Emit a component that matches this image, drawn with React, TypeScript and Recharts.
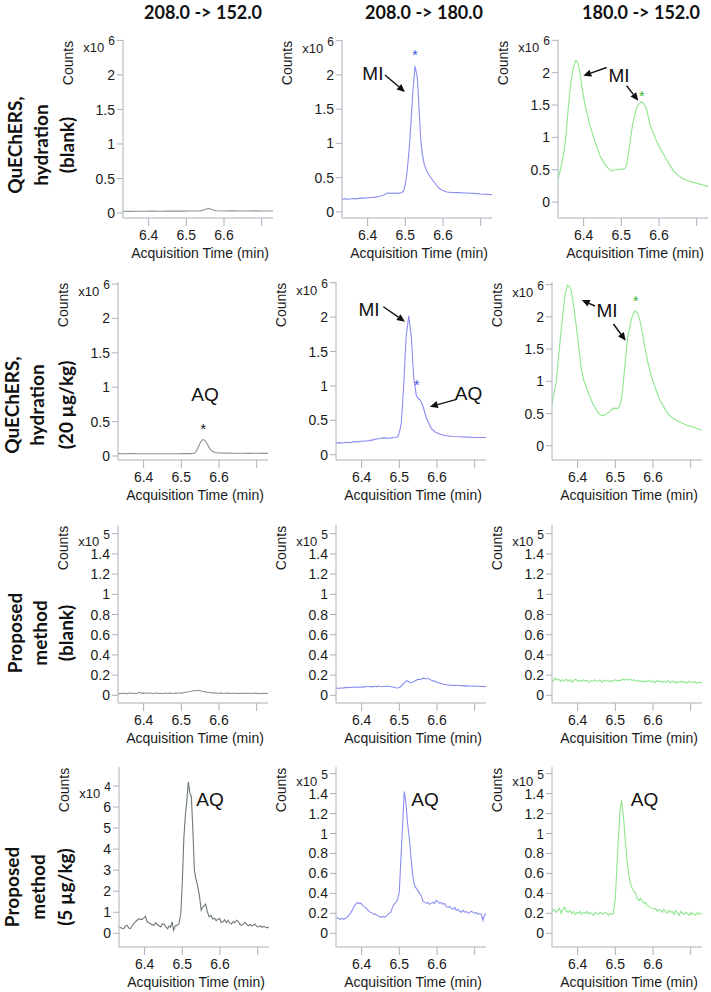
import React from 'react';
import { LineChart, Line, XAxis, YAxis, ReferenceDot, ReferenceLine } from 'recharts';

// ---------- labels ----------
const COLUMN_TITLES = ['208.0 -> 152.0', '208.0 -> 180.0', '180.0 -> 152.0'];
const ROW_LABELS = [
  ['QuEChERS,', 'hydration', '(blank)'],
  ['QuEChERS,', 'hydration', '(20 µg/kg)'],
  ['Proposed', 'method', '(blank)'],
  ['Proposed', 'method', '(5 µg/kg)'],
];
const X_TITLE = 'Acquisition Time (min)';
const Y_TITLE = 'Counts';

// ---------- ticks ----------
const X_DOMAIN = [6.332, 6.73];
const X_TICKS = [6.4, 6.5, 6.6, 6.7];
const X_TICK_LABELS = ['6.4', '6.5', '6.6', ''];
const Y_TICKS_E6 = [0, 0.5, 1, 1.5, 2, 2.5];
const Y_TICKS_E5 = [0, 0.2, 0.4, 0.6, 0.8, 1, 1.2, 1.4, 1.6];
const Y_TICKS_E4 = [0, 1, 2, 3, 4, 5, 6, 7];

// ---------- row 1 data (x10^6) ----------
const R1C1_T = [6.33, 6.35, 6.37, 6.39, 6.41, 6.43, 6.45, 6.47, 6.49, 6.51, 6.53, 6.54, 6.55, 6.555, 6.56, 6.565, 6.57, 6.58, 6.6, 6.62, 6.64, 6.66, 6.68, 6.7, 6.72, 6.73];
const R1C1_V = [0.025, 0.024, 0.026, 0.025, 0.027, 0.026, 0.028, 0.027, 0.028, 0.03, 0.03, 0.035, 0.05, 0.062, 0.065, 0.058, 0.045, 0.033, 0.03, 0.031, 0.03, 0.03, 0.031, 0.03, 0.03, 0.03];

const R1C2_T = [6.33, 6.34, 6.35, 6.36, 6.37, 6.38, 6.39, 6.4, 6.41, 6.42, 6.43, 6.44, 6.445, 6.45, 6.455, 6.46, 6.47, 6.48, 6.49, 6.495, 6.5, 6.505, 6.51, 6.515, 6.52, 6.526, 6.532, 6.537, 6.541, 6.545, 6.55, 6.555, 6.56, 6.57, 6.58, 6.59, 6.6, 6.61, 6.62, 6.64, 6.66, 6.68, 6.7, 6.72, 6.73];
const R1C2_V = [0.18, 0.19, 0.185, 0.195, 0.19, 0.2, 0.2, 0.205, 0.21, 0.215, 0.225, 0.24, 0.25, 0.27, 0.275, 0.27, 0.275, 0.27, 0.28, 0.3, 0.4, 0.6, 0.9, 1.3, 1.75, 2.13, 1.95, 1.45, 1.05, 0.85, 0.7, 0.62, 0.56, 0.48, 0.41, 0.34, 0.31, 0.29, 0.285, 0.28, 0.275, 0.27, 0.26, 0.255, 0.25];

const R1C3_T = [6.33, 6.335, 6.34, 6.346, 6.352, 6.359, 6.365, 6.37, 6.375, 6.379, 6.383, 6.388, 6.395, 6.404, 6.417, 6.431, 6.444, 6.457, 6.466, 6.475, 6.482, 6.488, 6.497, 6.506, 6.511, 6.515, 6.52, 6.524, 6.53, 6.535, 6.54, 6.544, 6.549, 6.553, 6.56, 6.567, 6.577, 6.586, 6.595, 6.606, 6.617, 6.628, 6.639, 6.65, 6.661, 6.675, 6.688, 6.7, 6.715, 6.73];
const R1C3_V = [0.33, 0.42, 0.55, 0.71, 0.95, 1.44, 1.8, 2.0, 2.12, 2.19, 2.17, 2.08, 1.8, 1.49, 1.18, 0.92, 0.71, 0.58, 0.52, 0.48, 0.5, 0.5, 0.51, 0.51, 0.53, 0.6, 0.8, 0.97, 1.2, 1.33, 1.45, 1.5, 1.53, 1.55, 1.52, 1.44, 1.18, 1.05, 0.92, 0.8, 0.69, 0.58, 0.48, 0.42, 0.37, 0.33, 0.31, 0.29, 0.27, 0.24];

// ---------- row 2 data (x10^6) ----------
const R2C1_T = [6.33, 6.35, 6.37, 6.39, 6.41, 6.43, 6.45, 6.47, 6.49, 6.51, 6.525, 6.535, 6.54, 6.545, 6.55, 6.555, 6.558, 6.562, 6.567, 6.572, 6.578, 6.585, 6.593, 6.6, 6.62, 6.64, 6.66, 6.68, 6.7, 6.72, 6.73];
const R2C1_V = [0.035, 0.033, 0.034, 0.032, 0.033, 0.032, 0.033, 0.032, 0.033, 0.034, 0.035, 0.04, 0.07, 0.13, 0.19, 0.23, 0.24, 0.23, 0.19, 0.14, 0.09, 0.06, 0.05, 0.045, 0.042, 0.04, 0.04, 0.039, 0.04, 0.038, 0.038];

const R2C2_T = [6.33, 6.34, 6.35, 6.36, 6.37, 6.38, 6.39, 6.4, 6.41, 6.42, 6.43, 6.44, 6.45, 6.46, 6.47, 6.48, 6.49, 6.496, 6.5, 6.505, 6.511, 6.518, 6.525, 6.532, 6.538, 6.545, 6.55, 6.556, 6.563, 6.572, 6.585, 6.595, 6.607, 6.62, 6.64, 6.66, 6.68, 6.7, 6.72, 6.73];
const R2C2_V = [0.17, 0.175, 0.17, 0.18, 0.175, 0.19, 0.19, 0.195, 0.2, 0.205, 0.215, 0.227, 0.24, 0.245, 0.24, 0.245, 0.25, 0.26, 0.32, 0.45, 0.94, 1.71, 2.02, 1.71, 1.13, 0.865, 0.82, 0.79, 0.7, 0.53, 0.38, 0.33, 0.3, 0.28, 0.265, 0.26, 0.255, 0.25, 0.25, 0.25];

const R2C3_T = [6.33, 6.333, 6.343, 6.351, 6.36, 6.367, 6.373, 6.378, 6.383, 6.391, 6.4, 6.409, 6.416, 6.423, 6.431, 6.44, 6.449, 6.458, 6.465, 6.471, 6.478, 6.485, 6.493, 6.5, 6.507, 6.512, 6.516, 6.52, 6.525, 6.533, 6.542, 6.548, 6.553, 6.559, 6.565, 6.571, 6.578, 6.587, 6.596, 6.607, 6.618, 6.629, 6.64, 6.655, 6.671, 6.69, 6.707, 6.72, 6.73];
const R2C3_V = [0.62, 0.68, 0.97, 1.48, 2.0, 2.36, 2.49, 2.47, 2.41, 2.1, 1.69, 1.22, 1.02, 0.91, 0.78, 0.66, 0.56, 0.49, 0.47, 0.476, 0.5, 0.53, 0.58, 0.58, 0.58, 0.62, 0.71, 0.9, 1.22, 1.69, 1.95, 2.05, 2.09, 2.06, 1.95, 1.78, 1.53, 1.28, 1.07, 0.88, 0.71, 0.6, 0.49, 0.42, 0.37, 0.32, 0.29, 0.26, 0.24];

// ---------- row 3 data (x10^5) ----------
const R3_T = [
  6.33, 6.335, 6.34, 6.345, 6.35, 6.355, 6.36, 6.365, 6.37, 6.375,
  6.38, 6.385, 6.39, 6.395, 6.4, 6.405, 6.41, 6.415, 6.42, 6.425,
  6.43, 6.435, 6.44, 6.445, 6.45, 6.455, 6.46, 6.465, 6.47, 6.475,
  6.48, 6.485, 6.49, 6.495, 6.5, 6.505, 6.51, 6.515, 6.52, 6.525,
  6.53, 6.535, 6.54, 6.545, 6.55, 6.555, 6.56, 6.565, 6.57, 6.575,
  6.58, 6.585, 6.59, 6.595, 6.6, 6.605, 6.61, 6.615, 6.62, 6.625,
  6.63, 6.635, 6.64, 6.645, 6.65, 6.655, 6.66, 6.665, 6.67, 6.675,
  6.68, 6.685, 6.69, 6.695, 6.7, 6.705, 6.71, 6.715, 6.72, 6.725, 6.73,
];
const R3C1_V = [
  0.02, 0.015, 0.02, 0.018, 0.022, 0.015, 0.02, 0.025, 0.018, 0.02,
  0.016, 0.022, 0.03, 0.02, 0.024, 0.018, 0.025, 0.02, 0.022, 0.018,
  0.02, 0.025, 0.018, 0.02, 0.016, 0.022, 0.02, 0.018, 0.024, 0.02,
  0.018, 0.022, 0.02, 0.025, 0.02, 0.028, 0.03, 0.032, 0.035, 0.04,
  0.042, 0.048, 0.045, 0.05, 0.045, 0.04, 0.038, 0.032, 0.03, 0.025,
  0.028, 0.02, 0.025, 0.022, 0.02, 0.024, 0.018, 0.02, 0.022, 0.019,
  0.02, 0.018, 0.022, 0.02, 0.017, 0.021, 0.019, 0.02, 0.018, 0.022,
  0.02, 0.017, 0.02, 0.022, 0.018, 0.02, 0.016, 0.02, 0.019, 0.018, 0.02,
];
const R3C2_V = [
  0.07, 0.072, 0.068, 0.075, 0.07, 0.078, 0.074, 0.08, 0.076, 0.082,
  0.08, 0.085, 0.078, 0.083, 0.08, 0.086, 0.082, 0.09, 0.085, 0.088,
  0.084, 0.09, 0.086, 0.092, 0.088, 0.085, 0.09, 0.087, 0.092, 0.088,
  0.084, 0.08, 0.075, 0.072, 0.078, 0.09, 0.11, 0.13, 0.145, 0.135,
  0.125, 0.13, 0.14, 0.15, 0.16, 0.155, 0.165, 0.17, 0.162, 0.168,
  0.16, 0.15, 0.145, 0.138, 0.13, 0.125, 0.118, 0.112, 0.108, 0.105,
  0.1, 0.104, 0.098, 0.1, 0.096, 0.1, 0.095, 0.098, 0.094, 0.096,
  0.092, 0.095, 0.09, 0.094, 0.088, 0.092, 0.09, 0.087, 0.09, 0.086, 0.088,
];
const R3C3_V = [
  0.16, 0.14, 0.17, 0.15, 0.16, 0.135, 0.155, 0.145, 0.16, 0.14,
  0.155, 0.13, 0.15, 0.16, 0.14, 0.15, 0.135, 0.155, 0.14, 0.15,
  0.13, 0.145, 0.14, 0.155, 0.135, 0.145, 0.15, 0.13, 0.148, 0.14,
  0.15, 0.135, 0.145, 0.14, 0.155, 0.14, 0.15, 0.145, 0.16, 0.15,
  0.165, 0.15, 0.16, 0.145, 0.155, 0.14, 0.15, 0.135, 0.145, 0.13,
  0.145, 0.135, 0.15, 0.13, 0.14, 0.125, 0.145, 0.135, 0.14, 0.125,
  0.14, 0.13, 0.145, 0.125, 0.135, 0.14, 0.12, 0.135, 0.13, 0.14,
  0.125, 0.135, 0.12, 0.14, 0.13, 0.125, 0.138, 0.12, 0.132, 0.125, 0.13,
];

// ---------- row 4 data ----------
const R4C1_T = [
  6.333, 6.338, 6.345, 6.349, 6.354, 6.358, 6.362, 6.367, 6.371, 6.376,
  6.38, 6.385, 6.389, 6.393, 6.398, 6.402, 6.407, 6.411, 6.416, 6.42,
  6.425, 6.429, 6.434, 6.438, 6.443, 6.447, 6.452, 6.456, 6.461, 6.465,
  6.469, 6.473, 6.477, 6.481, 6.486, 6.491, 6.496, 6.5, 6.504, 6.508,
  6.512, 6.516, 6.52, 6.524, 6.528, 6.532, 6.536, 6.54, 6.545, 6.55,
  6.554, 6.558, 6.562, 6.566, 6.571, 6.576, 6.581, 6.585, 6.59, 6.594,
  6.599, 6.603, 6.608, 6.612, 6.617, 6.621, 6.626, 6.63, 6.635, 6.639,
  6.644, 6.648, 6.653, 6.657, 6.662, 6.666, 6.671, 6.675, 6.68, 6.684,
  6.689, 6.693, 6.698, 6.702, 6.707, 6.711, 6.716, 6.72, 6.725, 6.73,
];
// x10^4
const R4C1_V = [
  0.3, 0.25, 0.22, 0.35, 0.38, 0.25, 0.22, 0.35, 0.46, 0.55,
  0.62, 0.7, 0.66, 0.66, 0.72, 0.81, 0.54, 0.5, 0.46, 0.4,
  0.38, 0.5, 0.42, 0.36, 0.3, 0.45, 0.43, 0.32, 0.22, 0.35,
  0.3, 0.54, 0.14, 0.35, 0.38, 0.46, 0.94, 2.4, 4.5, 5.6,
  6.3, 7.2, 6.65, 6.5, 4.9, 3.0, 2.6, 2.3, 1.85, 1.1,
  1.25, 1.3, 1.38, 1.05, 0.78, 0.85, 0.68, 0.72, 0.6, 0.66,
  0.7, 0.52, 0.55, 0.65, 0.5, 0.62, 0.48, 0.44, 0.55, 0.5,
  0.62, 0.58, 0.42, 0.38, 0.45, 0.52, 0.42, 0.36, 0.42, 0.35,
  0.4, 0.43, 0.32, 0.3, 0.36, 0.28, 0.32, 0.3, 0.26, 0.3,
];
const R4_T = [
  6.333, 6.338, 6.343, 6.348, 6.352, 6.357, 6.361, 6.366, 6.37, 6.375,
  6.38, 6.384, 6.389, 6.393, 6.398, 6.402, 6.406, 6.41, 6.415, 6.42,
  6.424, 6.429, 6.433, 6.437, 6.442, 6.446, 6.451, 6.455, 6.46, 6.464,
  6.468, 6.473, 6.477, 6.482, 6.486, 6.491, 6.495, 6.5, 6.504, 6.509,
  6.513, 6.517, 6.522, 6.526, 6.531, 6.535, 6.54, 6.545, 6.549, 6.554,
  6.558, 6.563, 6.567, 6.572, 6.576, 6.58, 6.584, 6.589, 6.593, 6.598,
  6.602, 6.607, 6.611, 6.616, 6.62, 6.624, 6.629, 6.633, 6.638, 6.642,
  6.647, 6.651, 6.656, 6.66, 6.665, 6.669, 6.674, 6.678, 6.683, 6.687,
  6.691, 6.696, 6.7, 6.704, 6.709, 6.713, 6.718, 6.722, 6.726, 6.73,
];
// x10^5
const R4C2_V = [
  0.16, 0.15, 0.14, 0.15, 0.14, 0.15, 0.16, 0.18, 0.2, 0.23,
  0.27, 0.29, 0.31, 0.3, 0.3, 0.28, 0.27, 0.26, 0.24, 0.22,
  0.21, 0.2, 0.19, 0.19, 0.18, 0.17, 0.16, 0.17, 0.16, 0.17,
  0.18, 0.2, 0.21, 0.26, 0.29, 0.31, 0.33, 0.42, 0.73, 1.1,
  1.42, 1.33, 1.1, 0.97, 0.76, 0.6, 0.48, 0.45, 0.43, 0.4,
  0.38, 0.32, 0.31, 0.3, 0.31, 0.29, 0.3, 0.31, 0.3, 0.33,
  0.32, 0.3, 0.31, 0.29, 0.3, 0.27, 0.26, 0.27, 0.25, 0.24,
  0.26, 0.23, 0.24, 0.22, 0.21, 0.23, 0.21, 0.22, 0.2, 0.21,
  0.22, 0.21, 0.2, 0.21, 0.19, 0.2, 0.19, 0.13, 0.18, 0.2,
];
const R4C3_V = [
  0.22, 0.24, 0.21, 0.23, 0.25, 0.2, 0.24, 0.26, 0.22, 0.21,
  0.23, 0.2, 0.22, 0.19, 0.21, 0.2, 0.22, 0.19, 0.21, 0.2,
  0.22, 0.19, 0.21, 0.2, 0.18, 0.21, 0.2, 0.19, 0.21, 0.2,
  0.19, 0.21, 0.2, 0.18, 0.2, 0.19, 0.2, 0.35, 0.65, 1.0,
  1.25, 1.33, 1.15, 0.95, 0.73, 0.6, 0.5, 0.45, 0.42, 0.4,
  0.35, 0.33, 0.35, 0.32, 0.3, 0.31, 0.28, 0.27, 0.26, 0.25,
  0.24, 0.25, 0.22, 0.24, 0.23, 0.21, 0.24, 0.22, 0.2, 0.23,
  0.21, 0.22, 0.19, 0.23, 0.2, 0.18, 0.22, 0.2, 0.19, 0.21,
  0.2, 0.18, 0.21, 0.19, 0.2, 0.18, 0.21, 0.19, 0.2, 0.19,
];

// ---------- annotations (data units) ----------
const NONE = { stars: [], texts: [], arrows: [] };
const NOTES_R1C2 = {
  stars: [{ t: 6.5257, v: 2.33, c: '#3d4fe0' }],
  texts: [{ t: 6.414, v: 2.028, s: 'MI' }],
  arrows: [{ t1: 6.446, v1: 2.0, t2: 6.499, v2: 1.75 }],
};
const NOTES_R1C3 = {
  stars: [{ t: 6.554, v: 1.686, c: '#2fb52f' }],
  texts: [{ t: 6.494, v: 1.968, s: 'MI' }],
  arrows: [
    { t1: 6.461, v1: 2.08, t2: 6.399, v2: 1.952 },
    { t1: 6.514, v1: 1.799, t2: 6.545, v2: 1.568 },
  ],
};
const NOTES_R2C1 = {
  stars: [{ t: 6.558, v: 0.426, c: '#111' }],
  texts: [{ t: 6.563, v: 0.902, s: 'AQ' }],
  arrows: [],
};
const NOTES_R2C2 = {
  stars: [{ t: 6.546, v: 1.046, c: '#3d4fe0' }],
  texts: [{ t: 6.4196, v: 2.113, s: 'MI' }, { t: 6.6835, v: 0.892, s: 'AQ' }],
  arrows: [
    { t1: 6.4575, v1: 2.151, t2: 6.515, v2: 1.933 },
    { t1: 6.652, v1: 0.805, t2: 6.581, v2: 0.698 },
  ],
};
const NOTES_R2C3 = {
  stars: [{ t: 6.554, v: 2.287, c: '#2fb52f' }],
  texts: [{ t: 6.478, v: 2.106, s: 'MI' }],
  arrows: [
    { t1: 6.446, v1: 2.168, t2: 6.411, v2: 2.261 },
    { t1: 6.495, v1: 1.889, t2: 6.5275, v2: 1.63 },
  ],
};
const NOTES_R4C1 = { stars: [], texts: [{ t: 6.5734, v: 6.363, s: 'AQ' }], arrows: [] };
const NOTES_R4C2 = { stars: [], texts: [{ t: 6.568, v: 1.345, s: 'AQ' }], arrows: [] };
const NOTES_R4C3 = { stars: [], texts: [{ t: 6.5774, v: 1.345, s: 'AQ' }], arrows: [] };

// ---------- style ----------
const GRAY = '#8a9494';
const GRAY_DARK = '#6e7878';
const BLUE = '#8a8cf0';
const GREEN = '#8ee68e';
const AXIS = '#a9b2ba';
const TXT = '#1a1a1a';
const SANS = '"Liberation Sans", Arial, Helvetica, sans-serif';
const BOLD = 'Lato, "Open Sans", sans-serif';

const PLOT_W = 150;

const PANELS = [
  { left: 123, top: 40, bottom: 218, yDomain: [-0.072, 2.506], yTicks: Y_TICKS_E6, topTick: 2.5, exp: '6', color: GRAY, t: R1C1_T, v: R1C1_V, notes: NONE },
  { left: 342, top: 40, bottom: 218, yDomain: [-0.09, 2.51], yTicks: Y_TICKS_E6, topTick: 2.5, exp: '6', color: BLUE, t: R1C2_T, v: R1C2_V, notes: NOTES_R1C2 },
  { left: 558, top: 40, bottom: 218, yDomain: [-0.245, 2.505], yTicks: Y_TICKS_E6, topTick: 2.5, exp: '6', color: GREEN, t: R1C3_T, v: R1C3_V, notes: NOTES_R1C3 },
  { left: 118, top: 282, bottom: 460, yDomain: [-0.058, 2.53], yTicks: Y_TICKS_E6, topTick: 2.5, exp: '6', color: GRAY, t: R2C1_T, v: R2C1_V, notes: NOTES_R2C1 },
  { left: 336, top: 282, bottom: 460, yDomain: [-0.077, 2.51], yTicks: Y_TICKS_E6, topTick: 2.5, exp: '6', color: BLUE, t: R2C2_T, v: R2C2_V, notes: NOTES_R2C2 },
  { left: 552, top: 282, bottom: 460, yDomain: [-0.22, 2.54], yTicks: Y_TICKS_E6, topTick: 2.5, exp: '6', color: GREEN, t: R2C3_T, v: R2C3_V, notes: NOTES_R2C3 },
  { left: 118, top: 525, bottom: 703, yDomain: [-0.076, 1.686], yTicks: Y_TICKS_E5, topTick: 1.6, exp: '5', color: GRAY, t: R3_T, v: R3C1_V, notes: NONE },
  { left: 336, top: 525, bottom: 703, yDomain: [-0.076, 1.686], yTicks: Y_TICKS_E5, topTick: 1.6, exp: '5', color: BLUE, t: R3_T, v: R3C2_V, notes: NONE },
  { left: 552, top: 525, bottom: 703, yDomain: [-0.076, 1.686], yTicks: Y_TICKS_E5, topTick: 1.6, exp: '5', color: GREEN, t: R3_T, v: R3C3_V, notes: NONE },
  { left: 119, top: 767, bottom: 947, yDomain: [-0.65, 7.9], yTicks: Y_TICKS_E4, topTick: 7, exp: '4', color: GRAY_DARK, t: R4C1_T, v: R4C1_V, notes: NOTES_R4C1 },
  { left: 336, top: 767, bottom: 947, yDomain: [-0.137, 1.666], yTicks: Y_TICKS_E5, topTick: 1.6, exp: '5', color: BLUE, t: R4_T, v: R4C2_V, notes: NOTES_R4C2 },
  { left: 552, top: 767, bottom: 947, yDomain: [-0.137, 1.666], yTicks: Y_TICKS_E5, topTick: 1.6, exp: '5', color: GREEN, t: R4_T, v: R4C3_V, notes: NOTES_R4C3 },
];

const ROW_LABEL_X = [[14.5, 40, 66], [11, 36, 65], [14.5, 39, 65], [11, 37.5, 64]];
const ROW_LABEL_Y = [145, 405, 633, 887];
const COL_TITLE_X = [203, 424, 641];

// ---------- ticks ----------
const makeYTick = (topTick: number, exp: string) => (p: any) => {
  const val = p.payload.value;
  if (val === topTick) {
    return (
      <text x={p.x} y={p.y} textAnchor="end" fill={TXT} fontFamily={SANS} fontSize={13}>
        <tspan dy={12}>x10</tspan>
        <tspan dx={4} dy={-7} fontSize={12}>{exp}</tspan>
      </text>
    );
  }
  return (
    <text x={p.x} y={p.y} dy="0.36em" textAnchor="end" fill={TXT} fontFamily={SANS} fontSize={14}>
      {String(val)}
    </text>
  );
};

const XTick = (p: any) => {
  const idx = X_TICKS.indexOf(p.payload.value);
  return (
    <text x={p.x} y={p.y} dy="0.71em" textAnchor="middle" fill={TXT} fontFamily={SANS} fontSize={14}>
      {idx >= 0 ? X_TICK_LABELS[idx] : ''}
    </text>
  );
};

const arrowShape = (p: any) => {
  const { x1, y1, x2, y2 } = p;
  if (x1 == null || x2 == null) return <g />;
  const dx = x2 - x1;
  const dy = y2 - y1;
  const len = Math.hypot(dx, dy) || 1;
  const ux = dx / len;
  const uy = dy / len;
  const hl = 8;
  const hw = 3.6;
  const bx = x2 - ux * hl;
  const by = y2 - uy * hl;
  return (
    <g>
      <line x1={x1} y1={y1} x2={bx} y2={by} stroke="#111" strokeWidth={1.4} />
      <polygon points={`${x2},${y2} ${bx - uy * hw},${by + ux * hw} ${bx + uy * hw},${by - ux * hw}`} fill="#111" />
    </g>
  );
};

const ML = 95;
const MT = 25;
const MB = 55;
const MR = 10;

function Panel({ cfg }: { cfg: any }) {
  const data = cfg.t.map((tt: number, i: number) => ({ t: tt, v: cfg.v[i] }));
  const plotH = cfg.bottom - cfg.top;
  return (
    <div style={{ position: 'absolute', left: cfg.left - ML, top: cfg.top - MT }}>
      <LineChart width={ML + PLOT_W + MR} height={MT + plotH + MB} data={data} margin={{ top: MT, right: MR, bottom: 0, left: 0 }}>
        <XAxis
          dataKey="t"
          type="number"
          domain={X_DOMAIN}
          ticks={X_TICKS}
          interval={0}
          allowDataOverflow
          height={MB}
          tickSize={8}
          tickMargin={4}
          stroke={AXIS}
          tickLine={{ stroke: AXIS }}
          tick={XTick}
        />
        <YAxis
          type="number"
          domain={cfg.yDomain}
          ticks={cfg.yTicks}
          interval={0}
          allowDataOverflow
          width={ML}
          tickSize={6}
          tickMargin={2}
          stroke={AXIS}
          tickLine={{ stroke: AXIS }}
          tick={makeYTick(cfg.topTick, cfg.exp)}
        />
        <Line dataKey="v" type="linear" stroke={cfg.color} strokeWidth={1.1} dot={false} activeDot={false} isAnimationActive={false} />
        {cfg.notes.arrows.map((a: any, i: number) => (
          <ReferenceLine
            key={'a' + i}
            segment={[{ x: a.t1, y: a.v1 }, { x: a.t2, y: a.v2 }]}
            ifOverflow="visible"
            shape={arrowShape}
          />
        ))}
        {cfg.notes.texts.map((n: any, i: number) => (
          <ReferenceDot
            key={'t' + i}
            x={n.t}
            y={n.v}
            r={1}
            ifOverflow="visible"
            shape={(p: any) => (
              <text x={p.cx} y={p.cy} dy="0.36em" textAnchor="middle" fill="#111" fontFamily={SANS} fontSize={19}>
                {n.s}
              </text>
            )}
          />
        ))}
        {cfg.notes.stars.map((n: any, i: number) => (
          <ReferenceDot
            key={'s' + i}
            x={n.t}
            y={n.v}
            r={1}
            ifOverflow="visible"
            shape={(p: any) => (
              <text x={p.cx} y={p.cy} dy="0.55em" textAnchor="middle" fill={n.c} fontFamily={SANS} fontSize={14}>
                *
              </text>
            )}
          />
        ))}
      </LineChart>
    </div>
  );
}

export default function App() {
  return (
    <div style={{ position: 'absolute', left: 0, top: 0, width: 711, height: 992, background: '#fff', overflow: 'hidden' }}>
      <svg width={711} height={992} style={{ position: 'absolute', left: 0, top: 0 }}>
        {COLUMN_TITLES.map((s, i) => (
          <text key={'c' + i} x={COL_TITLE_X[i]} y={18.5} textAnchor="middle" fontFamily={BOLD} fontWeight={700} fontSize={18} fill="#111">
            {s}
          </text>
        ))}
        {ROW_LABELS.map((lines, r) =>
          lines.map((s, j) => (
            <text
              key={'r' + r + j}
              x={ROW_LABEL_X[r][j]}
              y={ROW_LABEL_Y[r]}
              transform={`rotate(-90 ${ROW_LABEL_X[r][j]} ${ROW_LABEL_Y[r]})`}
              textAnchor="middle"
              dominantBaseline="central"
              fontFamily={BOLD}
              fontWeight={700}
              fontSize={19}
              fill="#111"
            >
              {s}
            </text>
          ))
        )}
        {PANELS.map((p, i) => (
          <g key={'p' + i}>
            <text
              x={p.left - 55}
              y={p.top + 23}
              transform={`rotate(-90 ${p.left - 55} ${p.top + 23})`}
              textAnchor="middle"
              dominantBaseline="central"
              fontFamily={SANS}
              fontSize={14}
              fill={TXT}
            >
              {Y_TITLE}
            </text>
            <text x={p.left + PLOT_W / 2 + 2} y={p.bottom + 40} textAnchor="middle" fontFamily={SANS} fontSize={14} fill={TXT}>
              {X_TITLE}
            </text>
          </g>
        ))}
      </svg>
      {PANELS.map((p, i) => (
        <Panel key={i} cfg={p} />
      ))}
    </div>
  );
}
